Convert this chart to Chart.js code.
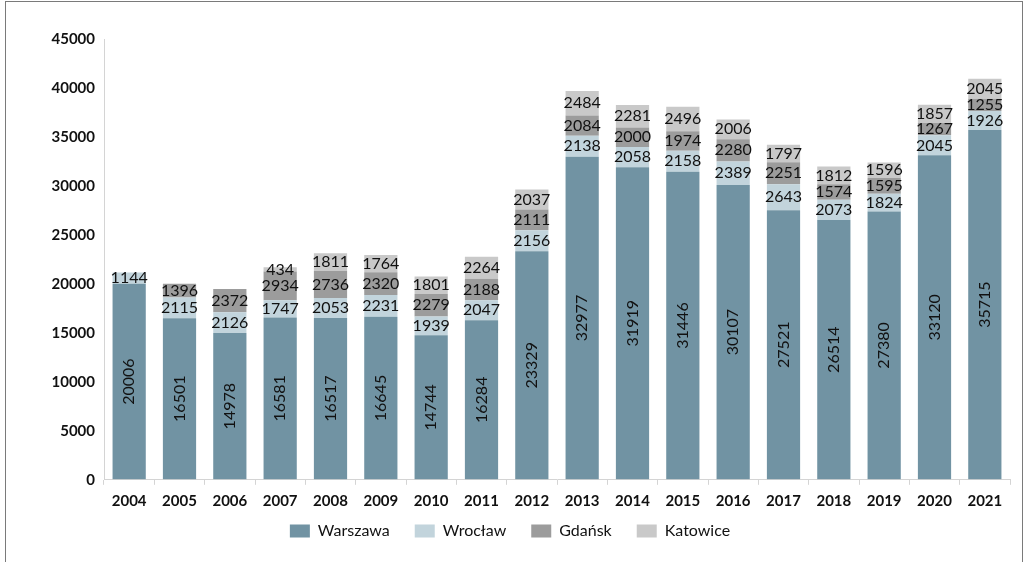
<!DOCTYPE html>
<html>
<head>
<meta charset="utf-8">
<script src="https://cdn.jsdelivr.net/npm/chart.js@4.4.1/dist/chart.umd.min.js"></script>
<style>
  body { margin: 0; background: #fff; }
  #wrap { position: relative; width: 1028px; height: 562px; }
</style>
</head>
<body>
<div id="wrap"><canvas id="cityChart" width="1028" height="562"></canvas></div>
<script>
const years = ["2004", "2005", "2006", "2007", "2008", "2009", "2010", "2011", "2012",
    "2013", "2014", "2015", "2016", "2017", "2018", "2019", "2020", "2021"];
const warszawa = [20006, 16501, 14978, 16581, 16517, 16645, 14744, 16284, 23329,
    32977, 31919, 31446, 30107, 27521, 26514, 27380, 33120, 35715];
const wroclaw = [1144, 2115, 2126, 1747, 2053, 2231, 1939, 2047, 2156,
    2138, 2058, 2158, 2389, 2643, 2073, 1824, 2045, 1926];
const gdansk = [null, 1396, 2372, 2934, 2736, 2320, 2279, 2188, 2111,
    2084, 2000, 1974, 2280, 2251, 1574, 1595, 1267, 1255];
const katowice = [null, null, null, 434, 1811, 1764, 1801, 2264, 2037,
    2484, 2281, 2496, 2006, 1797, 1812, 1596, 1857, 2045];
const yTicks = [0, 5000, 10000, 15000, 20000, 25000, 30000, 35000, 40000, 45000];

const FONT = "Lato, 'Open Sans', sans-serif";

// draws the numbers on each segment (no datalabels plugin available offline)
const segmentLabels = {
    id: "segmentLabels",
    afterDatasetsDraw(chart) {
        const ctx = chart.ctx;
        ctx.save();
        ctx.fillStyle = "#111";
        ctx.font = "16px " + FONT;
        ctx.textAlign = "center";
        ctx.textBaseline = "middle";
        chart.data.datasets.forEach((ds, i) => {
            const meta = chart.getDatasetMeta(i);
            meta.data.forEach((bar, j) => {
                const v = ds.data[j];
                if (v == null) return;
                const cy = (bar.y + bar.base) / 2;
                if (i === 0) {
                    ctx.save();
                    ctx.translate(bar.x, cy);
                    ctx.rotate(-Math.PI / 2);
                    ctx.fillText(String(v), 0, 0);
                    ctx.restore();
                } else {
                    ctx.fillText(String(v), bar.x, cy);
                }
            });
        });
        ctx.restore();
    },
};

const frame = {
    id: "frame",
    afterDraw(chart) {
        const ctx = chart.ctx;
        ctx.save();
        ctx.strokeStyle = "#7a7a7a";
        ctx.lineWidth = 1;
        ctx.strokeRect(5.5, 1.5, 1017, 620);
        ctx.restore();
    },
};

const ctx = document.getElementById("cityChart").getContext("2d");

const chart = new Chart(ctx, {
    type: "bar",
    data: {
        labels: years,
        datasets: [
            { label: "Warszawa", data: warszawa, backgroundColor: "#7193a3" },
            { label: "Wrocław", data: wroclaw, backgroundColor: "#c2d4dc" },
            { label: "Gdańsk", data: gdansk, backgroundColor: "#9c9c9c" },
            { label: "Katowice", data: katowice, backgroundColor: "#c9c9c9" },
        ],
    },
    options: {
        responsive: false,
        animation: false,
        layout: { padding: { left: 10, right: 18, top: 39, bottom: 13 } },
        datasets: { bar: { categoryPercentage: 1, barPercentage: 0.66 } },
        plugins: {
            tooltip: { enabled: false },
            legend: {
                position: "bottom",
                // empty title with negative padding pulls the legend closer to the axis
                title: { display: true, text: "", font: { size: 1 }, padding: { top: 0, bottom: -20 } },
                labels: {
                    boxWidth: 20,
                    boxHeight: 13,
                    padding: 25,
                    color: "#111",
                    font: { family: FONT, size: 16 },
                },
            },
        },
        scales: {
            x: {
                stacked: true,
                grid: { display: true, drawOnChartArea: false, tickLength: 5, color: "#d4d4d4" },
                border: { display: true, color: "#d4d4d4" },
                ticks: {
                    color: "#111",
                    padding: 7,
                    maxRotation: 0,
                    font: { family: FONT, size: 15, weight: "bold" },
                },
            },
            y: {
                stacked: true,
                min: 0,
                max: 45000,
                afterFit(scale) { scale.width = 94; },
                afterBuildTicks(scale) { scale.ticks = yTicks.map(v => ({ value: v })); },
                grid: { display: true, drawOnChartArea: false, drawTicks: false, color: "#d4d4d4" },
                border: { display: true, color: "#d4d4d4" },
                ticks: {
                    color: "#111",
                    padding: 9,
                    callback: v => String(v),
                    font: { family: FONT, size: 15, weight: "bold" },
                },
            },
        },
    },
    plugins: [segmentLabels, frame],
});
</script>
</body>
</html>
